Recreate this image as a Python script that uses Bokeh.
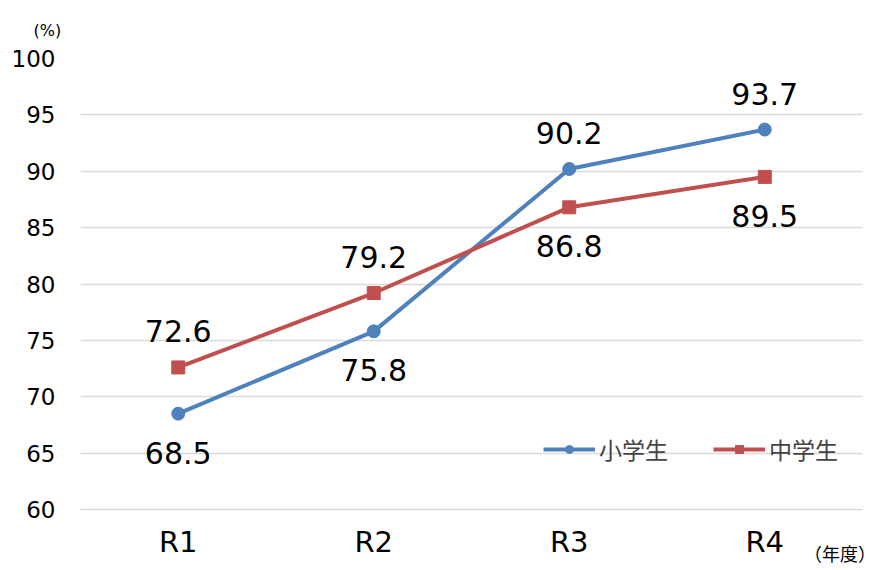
from bokeh.plotting import figure
from bokeh.models import ColumnDataSource, LabelSet, Title, Legend, LegendItem, FactorRange, Range1d, FixedTicker
from bokeh.core.properties import value
from bokeh.embed import file_html
from bokeh.resources import INLINE

years = ["R1", "R2", "R3", "R4"]
elementary = [68.5, 75.8, 90.2, 93.7]
junior = [72.6, 79.2, 86.8, 89.5]
elem_label_pos = ["below", "below", "above", "above"]
junior_label_pos = ["above", "above", "below", "below"]
y_ticks = [60, 65, 70, 75, 80, 85, 90, 95, 100]

FONT = "DejaVu Sans"
CJK = "Noto Sans CJK JP"
BLUE = "#4F81BD"
RED = "#C0504D"

p = figure(x_range=FactorRange(*years, range_padding=0), y_range=Range1d(60, 100),
           width=883, height=568, output_backend="svg", toolbar_location=None,
           min_border_left=80, min_border_right=21, min_border_top=57, min_border_bottom=58)
p.outline_line_color = None
p.background_fill_color = "white"

p.yaxis.ticker = FixedTicker(ticks=y_ticks)
p.yaxis.axis_line_color = None
p.yaxis.major_tick_line_color = None
p.yaxis.minor_tick_line_color = None
p.yaxis.major_label_text_font = FONT
p.yaxis.major_label_text_font_size = "23px"
p.yaxis.major_label_text_color = "#000000"
p.yaxis.major_label_standoff = 19

p.xaxis.axis_line_color = "#D9D9D9"
p.xaxis.axis_line_width = 1.5
p.xaxis.major_tick_line_color = None
p.xaxis.minor_tick_line_color = None
p.xaxis.major_label_text_font = FONT
p.xaxis.major_label_text_font_size = "29px"
p.xaxis.major_label_text_color = "#000000"
p.xaxis.major_label_standoff = 9
p.xaxis.axis_label = "（年度）\u3000\u3000\u3000"
p.xaxis.axis_label_align = "end"
p.xaxis.axis_label_standoff = -22
p.xaxis.axis_label_text_font = CJK
p.xaxis.axis_label_text_font_size = "18px"
p.xaxis.axis_label_text_font_style = "normal"
p.xaxis.axis_label_text_color = "#000000"

p.xgrid.grid_line_color = None
p.ygrid.grid_line_color = "#D9D9D9"
p.ygrid.grid_line_width = 1.5

def off(pos):
    return [36 if s == "above" else -39 for s in pos]

src_e = ColumnDataSource(dict(x=years, y=elementary, t=[f"{v:.1f}" for v in elementary], o=off(elem_label_pos)))
src_j = ColumnDataSource(dict(x=years, y=junior, t=[f"{v:.1f}" for v in junior], o=off(junior_label_pos)))

le = p.line("x", "y", source=src_e, line_color=BLUE, line_width=4)
ce = p.scatter("x", "y", source=src_e, marker="circle", size=13, fill_color=BLUE, line_color=BLUE)
lj = p.line("x", "y", source=src_j, line_color=RED, line_width=4)
sj = p.scatter("x", "y", source=src_j, marker="square", size=13, fill_color=RED, line_color=RED)

for src in (src_e, src_j):
    p.add_layout(LabelSet(x="x", y="y", text="t", source=src, y_offset="o",
                          text_align="center", text_baseline="middle",
                          text_font=value(FONT), text_font_size=value("30px"),
                          text_color=value("#000000")))

legend = Legend(items=[LegendItem(label="小学生", renderers=[le, ce]),
                       LegendItem(label="中学生", renderers=[lj, sj])],
                orientation="horizontal",
                background_fill_alpha=0, border_line_color=None,
                label_text_font=CJK, label_text_font_size="23px",
                glyph_width=52, spacing=45, label_standoff=4,
                margin=0, padding=0)
legend.location = (463, 43)
p.add_layout(legend)

t_pct = Title(text="(%)", align="left", offset=-47, standoff=37,
              text_font=FONT, text_font_size="16px", text_font_style="normal", text_color="#000000")
p.add_layout(t_pct, "above")

open("out.html", "w").write(file_html(p, INLINE))
